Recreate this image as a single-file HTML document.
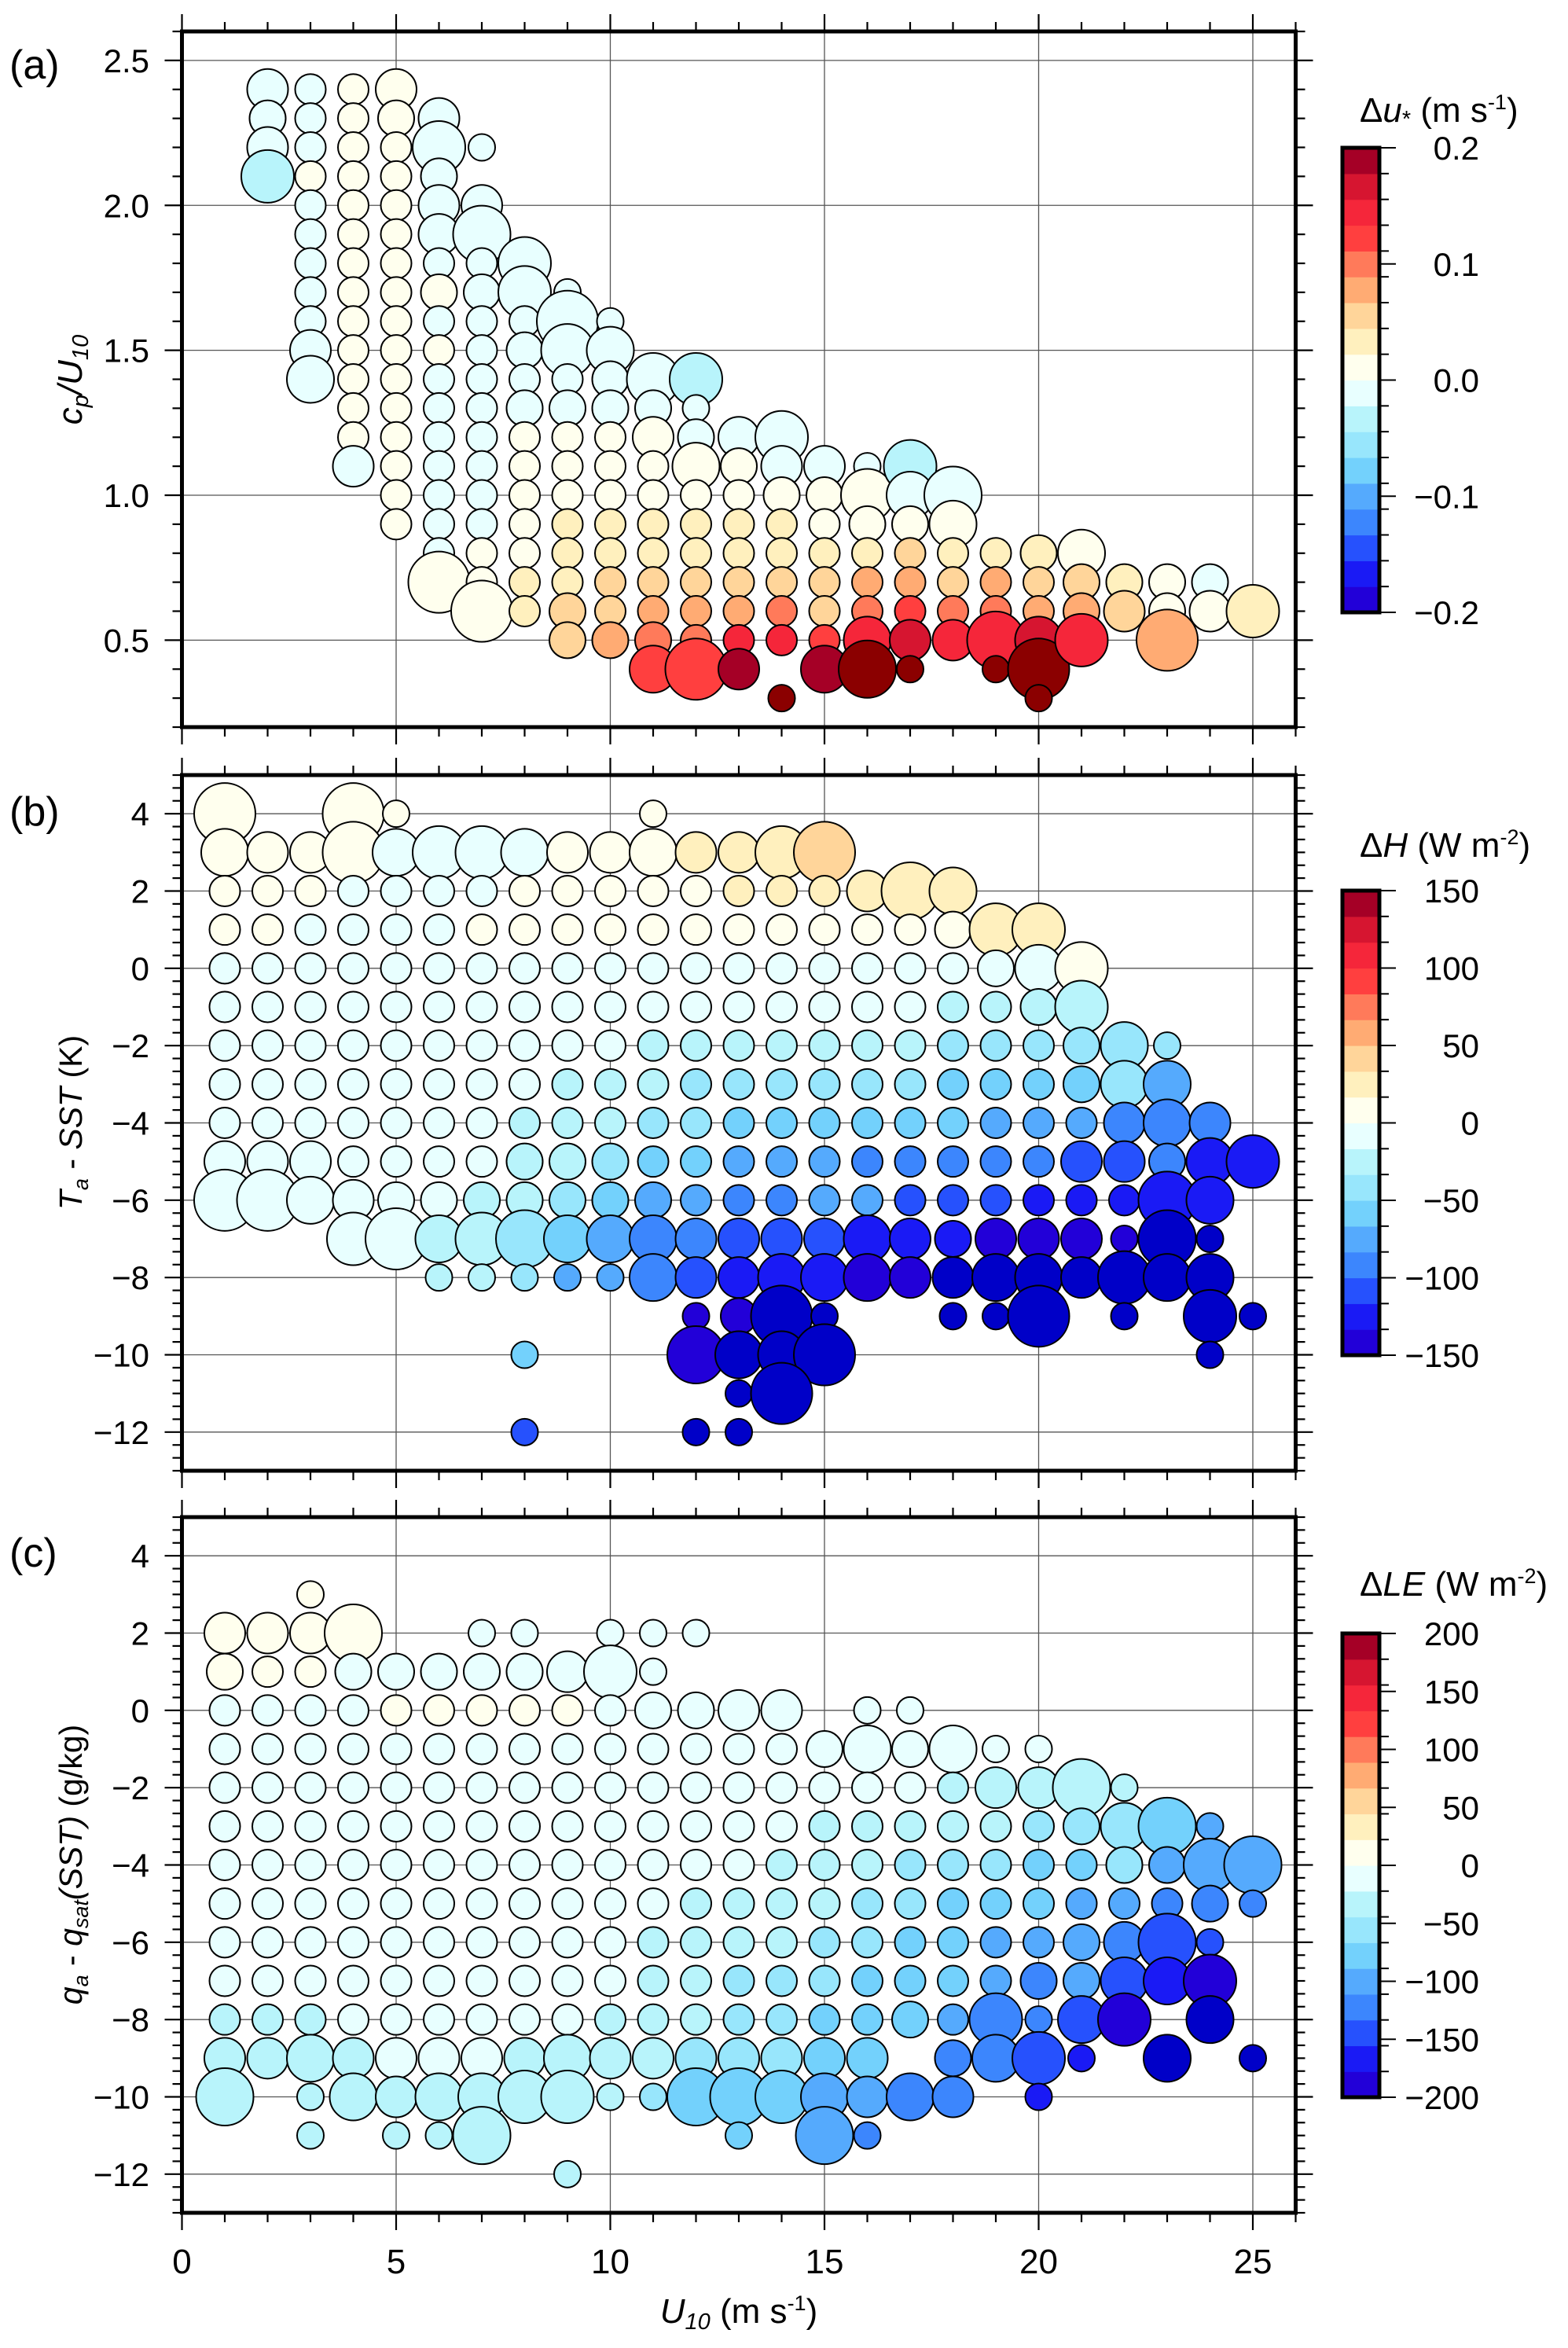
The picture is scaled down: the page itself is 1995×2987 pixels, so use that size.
<!DOCTYPE html>
<html><head><meta charset="utf-8">
<style>
html,body{margin:0;padding:0;background:#fff;}
svg{display:block;font-family:"Liberation Sans",sans-serif;}
</style></head>
<body>
<svg id="fig" xmlns="http://www.w3.org/2000/svg" width="1995" height="2987" viewBox="0 0 1995 2987"></svg>
<script>
// ---------- data ----------
const binColors = ["#2200d8","#1a1af5","#2651fd","#3c86fd","#55aafd","#73d1fc","#98e6fc","#b8f4fb","#e8ffff","#ffffee","#fff0be","#ffd59a","#ffab73","#ff7a5a","#ff3f3f","#f5263a","#d61530","#a50026"];
const underColor = "#0000c8";
const overColor = "#8b0000";
const xTicks = [0,5,10,15,20,25];
const aTicks = [0.5,1.0,1.5,2.0,2.5];
const bTicks = [-12,-10,-8,-6,-4,-2,0,2,4];
const cTicks = [-12,-10,-8,-6,-4,-2,0,2,4];
const aBarTicks = [-0.2,-0.1,0.0,0.1,0.2];
const bBarTicks = [-150,-100,-50,0,50,100,150];
const cBarTicks = [-200,-150,-100,-50,0,50,100,150,200];
// points: [U10, y, value, sizeClass]
const aPoints = [
[2,2.4,-0.01,3],[2,2.3,-0.01,2.5],[2,2.2,-0.01,3],[2,2.1,-0.03,4],
[3,2.4,-0.01,2],[3,2.3,-0.01,2],[3,2.2,-0.01,2],[3,2.1,0.01,2],[3,2.0,-0.01,2],[3,1.9,-0.01,2],[3,1.8,-0.01,2],[3,1.7,-0.01,2],[3,1.6,-0.01,2],[3,1.5,-0.01,3],[3,1.4,-0.01,3.5],
[4,2.4,0.01,2],[4,2.3,0.01,2],[4,2.2,0.01,2],[4,2.1,0.01,2],[4,2.0,0.01,2],[4,1.9,0.01,2],[4,1.8,0.01,2],[4,1.7,0.01,2],[4,1.6,0.01,2],[4,1.5,0.01,2],[4,1.4,0.01,2],[4,1.3,0.01,2],[4,1.2,0.01,2],[4,1.1,-0.01,3],
[5,2.4,0.01,3],[5,2.3,0.01,2.5],[5,2.2,0.01,2],[5,2.1,0.01,2],[5,2.0,0.01,2],[5,1.9,0.01,2],[5,1.8,0.01,2],[5,1.7,0.01,2],[5,1.6,0.01,2],[5,1.5,0.01,2],[5,1.4,0.01,2],[5,1.3,0.01,2],[5,1.2,0.01,2],[5,1.1,0.01,2],[5,1.0,0.01,2],[5,0.9,0.01,2],
[6,2.3,-0.01,3],[6,2.2,-0.01,4],[6,2.1,-0.01,2.5],[6,2.0,-0.01,3],[6,1.9,-0.01,3],[6,1.8,-0.01,2],[6,1.7,0.01,2.5],[6,1.6,-0.01,2],[6,1.5,0.01,2],[6,1.4,-0.01,2],[6,1.3,-0.01,2],[6,1.2,-0.01,2],[6,1.1,-0.01,2],[6,1.0,-0.01,2],[6,0.9,-0.01,2],[6,0.8,-0.01,2],[6,0.7,0.01,5],
[7,2.2,-0.01,1.5],[7,2.0,-0.01,3],[7,1.9,-0.01,4.5],[7,1.8,-0.01,2],[7,1.7,-0.01,2.5],[7,1.6,-0.01,2],[7,1.5,-0.01,2],[7,1.4,-0.01,2],[7,1.3,-0.01,2],[7,1.2,-0.01,2],[7,1.1,-0.01,2],[7,1.0,-0.01,2],[7,0.9,-0.01,2],[7,0.8,0.01,2],[7,0.7,0.01,2],[7,0.6,0.01,5],
[8,1.8,-0.01,4],[8,1.7,-0.01,4],[8,1.6,-0.01,2],[8,1.5,-0.01,2.5],[8,1.4,-0.01,2],[8,1.3,-0.01,2.5],[8,1.2,0.01,2],[8,1.1,0.01,2],[8,1.0,0.01,2],[8,0.9,0.01,2],[8,0.8,0.01,2],[8,0.7,0.03,2],[8,0.6,0.03,2],
[9,1.7,-0.01,1.5],[9,1.6,-0.01,5],[9,1.5,-0.01,4],[9,1.4,-0.01,2],[9,1.3,-0.01,2.5],[9,1.2,0.01,2],[9,1.1,0.01,2],[9,1.0,0.01,2],[9,0.9,0.03,2],[9,0.8,0.03,2],[9,0.7,0.03,2],[9,0.6,0.05,2.5],[9,0.5,0.05,2.5],
[10,1.6,-0.01,1.5],[10,1.5,-0.01,3.5],[10,1.4,-0.01,2.5],[10,1.3,-0.01,2.5],[10,1.2,0.01,2],[10,1.1,0.01,2],[10,1.0,0.01,2],[10,0.9,0.03,2],[10,0.8,0.03,2],[10,0.7,0.05,2],[10,0.6,0.05,2],[10,0.5,0.075,2.5],
[11,1.4,-0.01,4],[11,1.3,-0.01,2.5],[11,1.2,0.01,3],[11,1.1,0.01,2],[11,1.0,0.01,2],[11,0.9,0.03,2],[11,0.8,0.03,2],[11,0.7,0.05,2],[11,0.6,0.075,2],[11,0.5,0.095,2.5],[11,0.4,0.12,3.5],
[12,1.4,-0.03,4],[12,1.3,-0.01,1.5],[12,1.2,-0.01,2.5],[12,1.1,0.01,3.5],[12,1.0,0.01,2],[12,0.9,0.03,2],[12,0.8,0.03,2],[12,0.7,0.05,2],[12,0.6,0.075,2],[12,0.5,0.095,2],[12,0.4,0.12,5],
[13,1.2,-0.01,3],[13,1.1,0.01,2.5],[13,1.0,0.01,2],[13,0.9,0.03,2],[13,0.8,0.03,2],[13,0.7,0.05,2],[13,0.6,0.075,2],[13,0.5,0.14,2],[13,0.4,0.19,3],
[14,1.2,-0.01,4],[14,1.1,-0.01,3],[14,1.0,0.01,2.5],[14,0.9,0.03,2],[14,0.8,0.03,2],[14,0.7,0.05,2],[14,0.6,0.095,2],[14,0.5,0.14,2],[14,0.3,0.25,1.5],
[15,1.1,-0.01,3],[15,1.0,0.01,2.5],[15,0.9,0.01,2],[15,0.8,0.03,2],[15,0.7,0.05,2],[15,0.6,0.05,2],[15,0.5,0.12,2],[15,0.4,0.19,3.5],
[16,1.1,-0.01,1.5],[16,1.0,0.01,4],[16,0.9,0.01,2.5],[16,0.8,0.03,2],[16,0.7,0.075,2],[16,0.6,0.095,2],[16,0.5,0.14,3.5],[16,0.4,0.25,4.5],
[17,1.1,-0.03,4],[17,1.0,-0.01,3.5],[17,0.9,0.01,2.5],[17,0.8,0.05,2],[17,0.7,0.075,2],[17,0.6,0.12,2],[17,0.5,0.16,3],[17,0.4,0.25,1.5],
[18,1.0,-0.01,4.5],[18,0.9,0.01,3.5],[18,0.8,0.03,2],[18,0.7,0.05,2],[18,0.6,0.095,2],[18,0.5,0.14,3],
[19,0.8,0.03,2],[19,0.7,0.075,2],[19,0.6,0.095,2],[19,0.5,0.14,4.5],[19,0.4,0.25,1.5],
[20,0.8,0.03,2.5],[20,0.7,0.05,2],[20,0.6,0.075,2],[20,0.5,0.16,3.5],[20,0.4,0.25,5],[20,0.3,0.25,1.5],
[21,0.8,0.01,3.5],[21,0.7,0.05,2.5],[21,0.6,0.075,2.5],[21,0.5,0.14,4],
[22,0.7,0.03,2.5],[22,0.6,0.05,3],
[23,0.7,0.01,2.5],[23,0.6,0.01,2.5],[23,0.5,0.075,5],
[24,0.7,-0.01,2.5],[24,0.6,0.01,3],
[25,0.6,0.03,4]
];
const bPoints = [
[1,4,8,5],[4,4,8,5],[5,4,8,1.5],[11,4,8,1.5],
[1,3,8,3.5],[2,3,8,3],[3,3,8,3],[4,3,8,5],[5,3,-8,3.5],[6,3,-8,4],[7,3,-8,4],[8,3,-8,3.5],[9,3,8,3],[10,3,8,3],[11,3,8,3.5],[12,3,25,3],[13,3,25,3],[14,3,25,4],[15,3,42,5],
[1,2,8,2],[2,2,8,2],[3,2,8,2],[4,2,-8,2],[5,2,-8,2],[6,2,-8,2],[7,2,-8,2],[8,2,8,2],[9,2,8,2],[10,2,8,2],[11,2,8,2],[12,2,8,2],[13,2,25,2],[14,2,25,2],[15,2,25,2],[16,2,25,3],[17,2,25,4.5],[18,2,25,3.5],
[1,1,8,2],[2,1,8,2],[3,1,-8,2],[4,1,-8,2],[5,1,-8,2],[6,1,-8,2],[7,1,8,2],[8,1,8,2],[9,1,8,2],[10,1,8,2],[11,1,8,2],[12,1,8,2],[13,1,8,2],[14,1,8,2],[15,1,8,2],[16,1,8,2],[17,1,8,2],[18,1,8,2.5],[19,1,25,4],[20,1,25,4],
[1,0,-8,2],[2,0,-8,2],[3,0,-8,2],[4,0,-8,2],[5,0,-8,2],[6,0,-8,2],[7,0,-8,2],[8,0,-8,2],[9,0,-8,2],[10,0,-8,2],[11,0,-8,2],[12,0,-8,2],[13,0,-8,2],[14,0,-8,2],[15,0,-8,2],[16,0,-8,2],[17,0,-8,2],[18,0,-8,2],[19,0,-8,2.5],[20,0,-8,3.5],[21,0,8,4],
[1,-1,-8,2],[2,-1,-8,2],[3,-1,-8,2],[4,-1,-8,2],[5,-1,-8,2],[6,-1,-8,2],[7,-1,-8,2],[8,-1,-8,2],[9,-1,-8,2],[10,-1,-8,2],[11,-1,-8,2],[12,-1,-8,2],[13,-1,-8,2],[14,-1,-8,2],[15,-1,-8,2],[16,-1,-8,2],[17,-1,-8,2],[18,-1,-25,2],[19,-1,-25,2],[20,-1,-25,2.5],[21,-1,-25,4],
[1,-2,-8,2],[2,-2,-8,2],[3,-2,-8,2],[4,-2,-8,2],[5,-2,-8,2],[6,-2,-8,2],[7,-2,-8,2],[8,-2,-8,2],[9,-2,-8,2],[10,-2,-8,2],[11,-2,-25,2],[12,-2,-25,2],[13,-2,-25,2],[14,-2,-25,2],[15,-2,-25,2],[16,-2,-25,2],[17,-2,-25,2],[18,-2,-42,2],[19,-2,-42,2],[20,-2,-42,2],[21,-2,-42,2.5],[22,-2,-42,3.5],[23,-2,-42,1.5],
[1,-3,-8,2],[2,-3,-8,2],[3,-3,-8,2],[4,-3,-8,2],[5,-3,-8,2],[6,-3,-8,2],[7,-3,-8,2],[8,-3,-8,2],[9,-3,-25,2],[10,-3,-25,2],[11,-3,-25,2],[12,-3,-42,2],[13,-3,-42,2],[14,-3,-42,2],[15,-3,-42,2],[16,-3,-42,2],[17,-3,-42,2],[18,-3,-58,2],[19,-3,-58,2],[20,-3,-58,2],[21,-3,-58,2.5],[22,-3,-42,3.5],[23,-3,-75,3.5],
[1,-4,-8,2],[2,-4,-8,2],[3,-4,-8,2],[4,-4,-8,2],[5,-4,-8,2],[6,-4,-8,2],[7,-4,-8,2],[8,-4,-25,2],[9,-4,-25,2],[10,-4,-25,2],[11,-4,-42,2],[12,-4,-42,2],[13,-4,-58,2],[14,-4,-58,2],[15,-4,-58,2],[16,-4,-58,2],[17,-4,-58,2],[18,-4,-58,2],[19,-4,-75,2],[20,-4,-75,2],[21,-4,-75,2],[22,-4,-92,3],[23,-4,-92,3.5],[24,-4,-92,3],
[1,-5,-8,3],[2,-5,-8,3],[3,-5,-8,3],[4,-5,-8,2],[5,-5,-8,2],[6,-5,-8,2],[7,-5,-8,2],[8,-5,-25,2.5],[9,-5,-25,2.5],[10,-5,-42,2.5],[11,-5,-58,2],[12,-5,-58,2],[13,-5,-75,2],[14,-5,-75,2],[15,-5,-75,2],[16,-5,-92,2],[17,-5,-92,2],[18,-5,-92,2],[19,-5,-92,2],[20,-5,-92,2],[21,-5,-108,3],[22,-5,-108,3],[23,-5,-92,2.5],[24,-5,-125,3.5],[25,-5,-125,4],
[1,-6,-8,5],[2,-6,-8,5],[3,-6,-8,3.5],[4,-6,-8,3],[5,-6,-8,2.5],[6,-6,-8,2.5],[7,-6,-25,2.5],[8,-6,-25,2.5],[9,-6,-42,2.5],[10,-6,-58,2.5],[11,-6,-75,2.5],[12,-6,-75,2],[13,-6,-92,2],[14,-6,-92,2],[15,-6,-75,2],[16,-6,-75,2],[17,-6,-108,2],[18,-6,-108,2],[19,-6,-108,2],[20,-6,-125,2],[21,-6,-125,2],[22,-6,-125,2],[23,-6,-125,4.5],[24,-6,-125,3.5],
[4,-7,-8,4],[5,-7,-8,5],[6,-7,-25,3.5],[7,-7,-25,4],[8,-7,-42,4.5],[9,-7,-58,3.5],[10,-7,-75,3.5],[11,-7,-92,3.5],[12,-7,-92,3],[13,-7,-108,3],[14,-7,-108,3],[15,-7,-108,3],[16,-7,-125,3.5],[17,-7,-125,3],[18,-7,-125,2.5],[19,-7,-142,3],[20,-7,-142,3],[21,-7,-142,3],[22,-7,-142,1.5],[23,-7,-170,4.5],[24,-7,-170,1.5],
[6,-8,-25,1.5],[7,-8,-25,1.5],[8,-8,-42,1.5],[9,-8,-75,1.5],[10,-8,-75,1.5],[11,-8,-92,3.5],[12,-8,-108,3],[13,-8,-125,3],[14,-8,-125,3.5],[15,-8,-125,3.5],[16,-8,-142,3.5],[17,-8,-142,3],[18,-8,-170,3],[19,-8,-170,3.5],[20,-8,-170,3.5],[21,-8,-170,3],[22,-8,-170,4],[23,-8,-170,3.5],[24,-8,-170,3.5],
[12,-9,-142,1.5],[13,-9,-142,2.5],[14,-9,-170,5],[15,-9,-170,1.5],[18,-9,-170,1.5],[19,-9,-170,1.5],[20,-9,-170,5],[22,-9,-170,1.5],[24,-9,-170,4],[25,-9,-170,1.5],
[8,-10,-58,1.5],[12,-10,-142,4.5],[13,-10,-170,3.5],[14,-10,-170,3.5],[15,-10,-170,5],[24,-10,-170,1.5],
[13,-11,-170,1.5],[14,-11,-170,5],
[8,-12,-108,1.5],[12,-12,-170,1.5],[13,-12,-170,1.5]
];
const cPoints = [
[3,3,11,1.5],
[1,2,11,3],[2,2,11,3],[3,2,11,3],[4,2,11,4.5],[7,2,-11,1.5],[8,2,-11,1.5],[10,2,-11,1.5],[11,2,-11,1.5],[12,2,-11,1.5],
[1,1,11,2.5],[2,1,11,2],[3,1,11,2],[4,1,-11,2.5],[5,1,-11,2.5],[6,1,-11,2.5],[7,1,-11,2.5],[8,1,-11,2.5],[9,1,-11,3],[10,1,-11,4],[11,1,-11,1.5],
[1,0,-11,2],[2,0,-11,2],[3,0,-11,2],[4,0,-11,2],[5,0,11,2],[6,0,11,2],[7,0,11,2],[8,0,11,2],[9,0,11,2],[10,0,-11,2],[11,0,-11,2.5],[12,0,-11,2.5],[13,0,-11,3],[14,0,-11,3],[16,0,-11,1.5],[17,0,-11,1.5],
[1,-1,-11,2],[2,-1,-11,2],[3,-1,-11,2],[4,-1,-11,2],[5,-1,-11,2],[6,-1,-11,2],[7,-1,-11,2],[8,-1,-11,2],[9,-1,-11,2],[10,-1,-11,2],[11,-1,-11,2],[12,-1,-11,2],[13,-1,-11,2],[14,-1,-11,2],[15,-1,-11,2.5],[16,-1,-11,3.5],[17,-1,-11,2.5],[18,-1,-11,3.5],[19,-1,-11,1.5],[20,-1,-11,1.5],
[1,-2,-11,2],[2,-2,-11,2],[3,-2,-11,2],[4,-2,-11,2],[5,-2,-11,2],[6,-2,-11,2],[7,-2,-11,2],[8,-2,-11,2],[9,-2,-11,2],[10,-2,-11,2],[11,-2,-11,2],[12,-2,-11,2],[13,-2,-11,2],[14,-2,-11,2],[15,-2,-11,2],[16,-2,-11,2],[17,-2,-11,2],[18,-2,-33,2],[19,-2,-33,3],[20,-2,-33,3],[21,-2,-33,4.5],[22,-2,-33,1.5],
[1,-3,-11,2],[2,-3,-11,2],[3,-3,-11,2],[4,-3,-11,2],[5,-3,-11,2],[6,-3,-11,2],[7,-3,-11,2],[8,-3,-11,2],[9,-3,-11,2],[10,-3,-11,2],[11,-3,-11,2],[12,-3,-11,2],[13,-3,-11,2],[14,-3,-11,2],[15,-3,-33,2],[16,-3,-33,2],[17,-3,-33,2],[18,-3,-33,2],[19,-3,-33,2],[20,-3,-55,2],[21,-3,-55,2.5],[22,-3,-55,3.5],[23,-3,-78,4.5],[24,-3,-100,1.5],
[1,-4,-11,2],[2,-4,-11,2],[3,-4,-11,2],[4,-4,-11,2],[5,-4,-11,2],[6,-4,-11,2],[7,-4,-11,2],[8,-4,-11,2],[9,-4,-11,2],[10,-4,-11,2],[11,-4,-11,2],[12,-4,-11,2],[13,-4,-11,2],[14,-4,-33,2],[15,-4,-33,2],[16,-4,-33,2],[17,-4,-55,2],[18,-4,-55,2],[19,-4,-55,2],[20,-4,-78,2],[21,-4,-78,2],[22,-4,-55,2.5],[23,-4,-100,2.5],[24,-4,-100,4],[25,-4,-100,4.5],
[1,-5,-11,2],[2,-5,-11,2],[3,-5,-11,2],[4,-5,-11,2],[5,-5,-11,2],[6,-5,-11,2],[7,-5,-11,2],[8,-5,-11,2],[9,-5,-11,2],[10,-5,-11,2],[11,-5,-11,2],[12,-5,-33,2],[13,-5,-33,2],[14,-5,-33,2],[15,-5,-33,2],[16,-5,-55,2],[17,-5,-55,2],[18,-5,-78,2],[19,-5,-78,2],[20,-5,-78,2],[21,-5,-100,2],[22,-5,-100,2],[23,-5,-122,2],[24,-5,-122,2.5],[25,-5,-122,1.5],
[1,-6,-11,2],[2,-6,-11,2],[3,-6,-11,2],[4,-6,-11,2],[5,-6,-11,2],[6,-6,-11,2],[7,-6,-11,2],[8,-6,-11,2],[9,-6,-11,2],[10,-6,-11,2],[11,-6,-33,2],[12,-6,-33,2],[13,-6,-33,2],[14,-6,-33,2],[15,-6,-55,2],[16,-6,-55,2],[17,-6,-78,2],[18,-6,-78,2],[19,-6,-100,2],[20,-6,-100,2],[21,-6,-100,2.5],[22,-6,-122,3],[23,-6,-144,4.5],[24,-6,-144,1.5],
[1,-7,-11,2],[2,-7,-11,2],[3,-7,-11,2],[4,-7,-11,2],[5,-7,-11,2],[6,-7,-11,2],[7,-7,-11,2],[8,-7,-11,2],[9,-7,-11,2],[10,-7,-11,2],[11,-7,-33,2],[12,-7,-33,2],[13,-7,-55,2],[14,-7,-55,2],[15,-7,-55,2],[16,-7,-78,2],[17,-7,-78,2],[18,-7,-78,2],[19,-7,-100,2],[20,-7,-122,2.5],[21,-7,-100,2.5],[22,-7,-144,3.5],[23,-7,-166,3.5],[24,-7,-190,4],
[1,-8,-33,2],[2,-8,-33,2],[3,-8,-33,2],[4,-8,-11,2],[5,-8,-11,2],[6,-8,-11,2],[7,-8,-11,2],[8,-8,-11,2],[9,-8,-11,2],[10,-8,-33,2],[11,-8,-33,2],[12,-8,-33,2],[13,-8,-55,2],[14,-8,-55,2],[15,-8,-78,2],[16,-8,-78,2],[17,-8,-78,2.5],[18,-8,-100,2],[19,-8,-122,4],[20,-8,-122,1.5],[21,-8,-144,3.5],[22,-8,-190,4],[24,-8,-230,3.5],
[1,-9,-33,3],[2,-9,-33,3],[3,-9,-33,3.5],[4,-9,-33,3],[5,-9,-11,3],[6,-9,-11,3],[7,-9,-11,3],[8,-9,-33,3],[9,-9,-33,3.5],[10,-9,-33,3],[11,-9,-33,3],[12,-9,-55,3],[13,-9,-55,3],[14,-9,-55,3],[15,-9,-78,3],[16,-9,-78,3],[18,-9,-122,2.5],[19,-9,-122,3.5],[20,-9,-144,4],[21,-9,-166,1.5],[23,-9,-230,3.5],[25,-9,-230,1.5],
[1,-10,-33,4.5],[3,-10,-33,1.5],[4,-10,-33,3.5],[5,-10,-33,3],[6,-10,-33,3.5],[7,-10,-33,3.5],[8,-10,-33,4],[9,-10,-33,4],[10,-10,-33,1.5],[11,-10,-55,1.5],[12,-10,-78,4.5],[13,-10,-78,4.5],[14,-10,-78,4],[15,-10,-100,3.5],[16,-10,-100,3],[17,-10,-122,3.5],[18,-10,-122,3],[20,-10,-166,1.5],
[3,-11,-33,1.5],[5,-11,-33,1.5],[6,-11,-33,1.5],[7,-11,-33,4.5],[13,-11,-78,1.5],[15,-11,-100,4.5],[16,-11,-122,1.5],
[9,-12,-33,1.5]
];

// ---------- layout ----------
const NS = "http://www.w3.org/2000/svg";
const svg = document.getElementById("fig");
const X0 = 231.5, XU = 54.5;
function xs(v){ return X0 + v*XU; }
const radiusOf = {1.5:17,2:19.5,2.5:23,3:26,3.5:30,4:33.5,4.5:36.5,5:39};
function mk(tag, attrs, parent){
  const e = document.createElementNS(NS, tag);
  for (const k in attrs) e.setAttribute(k, attrs[k]);
  (parent||svg).appendChild(e);
  return e;
}
function colorFor(v, vmin, vmax){
  if (v < vmin) return underColor;
  if (v > vmax) return overColor;
  let i = Math.floor((v - vmin)/(vmax - vmin)*18);
  if (i > 17) i = 17; if (i < 0) i = 0;
  return binColors[i];
}

const panels = [
 {id:"a", top:40, bot:925, ymin:0.2, ymax:2.6, ticks:aTicks, fmt:v=>v.toFixed(1), minor:0.1, pts:aPoints, vmin:-0.2, vmax:0.2,
  barTop:188, barBot:779, barTicks:aBarTicks, barFmt:v=>(v<0?"\u2212":"")+Math.abs(v).toFixed(1)},
 {id:"b", top:986, bot:1871, ymin:-13, ymax:5, ticks:bTicks, fmt:v=>(v<0?"\u2212":"")+Math.abs(v), minor:1/3, pts:bPoints, vmin:-150, vmax:150,
  barTop:1133, barBot:1724, barTicks:bBarTicks, barFmt:v=>(v<0?"\u2212":"")+Math.abs(v)},
 {id:"c", top:1930, bot:2815, ymin:-13, ymax:5, ticks:cTicks, fmt:v=>(v<0?"\u2212":"")+Math.abs(v), minor:1/3, pts:cPoints, vmin:-200, vmax:200,
  barTop:2078, barBot:2668, barTicks:cBarTicks, barFmt:v=>(v<0?"\u2212":"")+Math.abs(v)}
];
const XR = xs(26);

panels.forEach(p=>{
  const g = mk("g", {});
  
  
  const ys = v => p.bot - (v - p.ymin)/(p.ymax - p.ymin)*(p.bot - p.top);
  const grid = mk("g", {stroke:"#555", "stroke-width":1.3}, g);
  
  
  xTicks.forEach(t=>{ if(t>0) mk("line",{x1:xs(t),x2:xs(t),y1:p.top,y2:p.bot},grid); });
  p.ticks.forEach(t=>{ mk("line",{x1:X0,x2:XR,y1:ys(t),y2:ys(t)},grid); });
  const cg = mk("g", {stroke:"#000","stroke-width":2}, g);
  
  
  p.pts.forEach(d=>{
    const c = mk("circle",{cx:xs(d[0]),cy:ys(d[1]),r:radiusOf[d[3]],fill:colorFor(d[2],p.vmin,p.vmax)},cg);
    
    
  });
  const tg = mk("g",{stroke:"#000","stroke-width":2.2}, g);
  
  
  for (let u=0; u<=26; u++){
    const L = (u%5===0)?22:12;
    mk("line",{x1:xs(u),x2:xs(u),y1:p.top,y2:p.top-L},tg);
    mk("line",{x1:xs(u),x2:xs(u),y1:p.bot,y2:p.bot+L},tg);
  }
  const nMinor = Math.round((p.ymax-p.ymin)/p.minor);
  for (let k=0;k<=nMinor;k++){
    const v = p.ymin + k*p.minor;
    const isMaj = p.ticks.some(t=>Math.abs(t-v)<1e-6);
    const L = isMaj?22:12;
    mk("line",{x1:X0,x2:X0-L,y1:ys(v),y2:ys(v)},tg);
    mk("line",{x1:XR,x2:XR+L,y1:ys(v),y2:ys(v)},tg);
  }
  const fr = mk("rect",{x:X0,y:p.top,width:XR-X0,height:p.bot-p.top,fill:"none",stroke:"#000","stroke-width":5},g);
  
  
  p.ticks.forEach(t=>{
    const tx = mk("text",{x:190,y:ys(t)+15,"text-anchor":"end","font-size":42},g);
    tx.textContent = p.fmt(t);
    
    
  });
  const pl = mk("text",{x:12,y:p.id==="a"?100:(p.id==="b"?1050:1993),"font-size":52},g);
  pl.textContent = "("+p.id+")";
  
  
  const bx=1708, bw=47;
  const cb = mk("g",{},g);
  
  
  const bh = (p.barBot-p.barTop)/18;
  binColors.forEach((col,i)=>{
    mk("rect",{x:bx,y:p.barBot-(i+1)*bh,width:bw,height:bh+0.6,fill:col},cb);
  });
  mk("rect",{x:bx,y:p.barTop,width:bw,height:p.barBot-p.barTop,fill:"none",stroke:"#000","stroke-width":5},cb);
  for (let i=0;i<=18;i++){
    mk("line",{x1:bx+bw,x2:bx+bw+12,y1:p.barBot-i*bh,y2:p.barBot-i*bh,stroke:"#000","stroke-width":2},cb);
  }
  const bys = v => p.barBot - (v-p.vmin)/(p.vmax-p.vmin)*(p.barBot-p.barTop);
  p.barTicks.forEach(t=>{
    mk("line",{x1:bx+bw,x2:bx+bw+21,y1:bys(t),y2:bys(t),stroke:"#000","stroke-width":2},cb);
    const tx = mk("text",{x:1882,y:bys(t)+15,"text-anchor":"end","font-size":42},cb);
    tx.textContent = p.barFmt(t);
    
    
  });
});

xTicks.forEach(t=>{
  const tx = mk("text",{x:xs(t),y:2892,"text-anchor":"middle","font-size":44});
  tx.textContent = t;
  
  
});
</script>
<svg style="position:absolute;left:0;top:0" width="1995" height="2987" font-family="Liberation Sans, sans-serif">
  <text x="940" y="2955" text-anchor="middle" font-size="44"><tspan font-style="italic">U</tspan><tspan font-style="italic" font-size="29" dy="8">10</tspan><tspan dy="-8"> (m s</tspan><tspan font-size="27" dy="-16">-1</tspan><tspan dy="16">)</tspan></text>
  <text transform="translate(104,483) rotate(-90)" text-anchor="middle" font-size="44"><tspan font-style="italic">c</tspan><tspan font-style="italic" font-size="29" dy="8">p</tspan><tspan font-style="italic" dy="-8">/U</tspan><tspan font-style="italic" font-size="29" dy="8">10</tspan></text>
  <text transform="translate(104,1428) rotate(-90)" text-anchor="middle" font-size="41"><tspan font-style="italic">T</tspan><tspan font-style="italic" font-size="27" dy="8">a</tspan><tspan dy="-8"> - </tspan><tspan font-style="italic">SST</tspan><tspan> (K)</tspan></text>
  <text transform="translate(104,2372) rotate(-90)" text-anchor="middle" font-size="41"><tspan font-style="italic">q</tspan><tspan font-style="italic" font-size="27" dy="8">a</tspan><tspan dy="-8"> - </tspan><tspan font-style="italic">q</tspan><tspan font-style="italic" font-size="27" dy="8">sat</tspan><tspan font-style="italic" dy="-8">(SST)</tspan><tspan> (g/kg)</tspan></text>
  <text x="1730" y="155" font-size="44">Δ<tspan font-style="italic">u</tspan><tspan font-size="29" dy="6">*</tspan><tspan dy="-6"> (m s</tspan><tspan font-size="27" dy="-16">-1</tspan><tspan dy="16">)</tspan></text>
  <text x="1730" y="1090" font-size="44">Δ<tspan font-style="italic">H</tspan><tspan> (W m</tspan><tspan font-size="27" dy="-16">-2</tspan><tspan dy="16">)</tspan></text>
  <text x="1730" y="2030" font-size="44">Δ<tspan font-style="italic">LE</tspan><tspan> (W m</tspan><tspan font-size="27" dy="-16">-2</tspan><tspan dy="16">)</tspan></text>
</svg>
</body></html>
